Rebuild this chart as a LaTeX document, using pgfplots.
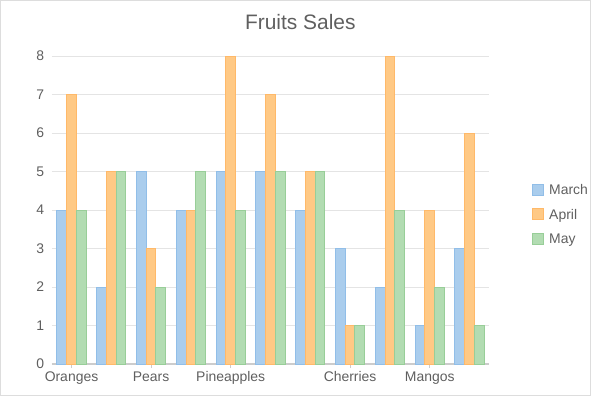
\documentclass[border=0pt]{standalone}
\usepackage{fontspec}
\setmainfont{Liberation Sans}
\usepackage{pgfplots}
\pgfplotsset{compat=1.18}
\definecolor{marF}{RGB}{170,205,237}
\definecolor{marD}{RGB}{145,190,232}
\definecolor{aprF}{RGB}{255,201,133}
\definecolor{aprD}{RGB}{255,185,105}
\definecolor{mayF}{RGB}{178,220,178}
\definecolor{mayD}{RGB}{152,206,152}
\definecolor{framegray}{RGB}{221,221,221}
\definecolor{axisgray}{RGB}{204,204,204}
\definecolor{gridgray}{RGB}{228,228,228}
\definecolor{labelgray}{RGB}{95,95,95}
\begin{document}
\begin{tikzpicture}[x=1bp,y=1bp]
\useasboundingbox (0,0) rectangle (591,396);
\draw[color=framegray, line width=1bp] (0.5,0.5) rectangle (590.5,395.5);
\begin{axis}[
  at={(51.6bp,32bp)}, anchor=south west,
  scale only axis, width=437.8bp, height=308bp,
  xmin=-0.5, xmax=10.5, ymin=0, ymax=8,
  ybar, bar width=0.244,
  axis x line*=bottom, axis y line*=left,
  y axis line style={draw=none},
  x axis line style={color=axisgray, line width=2bp},
  ytick={0,1,...,8}, ymajorgrids,
  grid style={color=gridgray, line width=1bp},
  major y tick style={draw=none},
  xtick={0,2,4,7,9},
  xticklabels={Oranges,Pears,Pineapples,Cherries,Mangos},
  major x tick style={color=axisgray, line width=1bp},
  tick align=outside, major tick length=4bp,
  ticklabel style={font=\fontsize{14}{16}\selectfont, text=labelgray},
  /pgf/number format/assume math mode=true,
  title={Fruits Sales},
  title style={font=\fontsize{21}{24}\selectfont, text=labelgray, at={(0.5,1)}, anchor=base, yshift=20.3bp, xshift=29.8bp},
  legend style={at={(1,0.5)}, anchor=west, xshift=42.6bp, yshift=-5.3bp,
    draw=none, fill=none, inner sep=0pt, row sep=11bp,
    font=\fontsize{14}{16}\selectfont, text=labelgray,
    nodes={inner sep=0pt, text height=10bp, text depth=3bp},
    /tikz/every odd column/.append style={column sep=5bp}},
  legend cell align=left,
  legend image code/.code={\draw[#1] (0bp,-4.3bp) rectangle (11bp,6.7bp);},
]
\addplot[fill=marF, draw=marD, line width=1bp, bar shift=-0.244] coordinates {
(0,4) (1,2) (2,5) (3,4) (4,5) (5,5) (6,4) (7,3) (8,2) (9,1) (10,3)};
\addplot[fill=aprF, draw=aprD, line width=1bp, bar shift=0] coordinates {
(0,7) (1,5) (2,3) (3,4) (4,8) (5,7) (6,5) (7,1) (8,8) (9,4) (10,6)};
\addplot[fill=mayF, draw=mayD, line width=1bp, bar shift=0.244] coordinates {
(0,4) (1,5) (2,2) (3,5) (4,4) (5,5) (6,5) (7,1) (8,4) (9,2) (10,1)};
\legend{March,April,May}
\end{axis}
\end{tikzpicture}
\end{document}
